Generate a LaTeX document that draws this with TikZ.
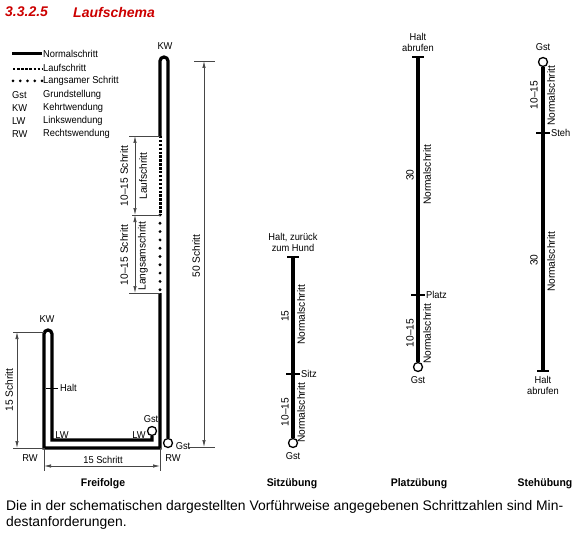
\documentclass[tikz,border=0pt]{standalone}
\usepackage{fontspec}
\setmainfont{Liberation Sans}
\newfontfamily\narrowsf[FakeStretch=0.93]{Liberation Sans}
\newfontfamily\rotsf[FakeStretch=0.97]{Liberation Sans}
\newfontfamily\captsf[FakeStretch=0.95]{Liberation Sans}
\usetikzlibrary{arrows.meta}
\definecolor{titlered}{RGB}{204,0,0}
\definecolor{dimgray}{RGB}{70,70,70}
\begin{document}
\begin{tikzpicture}[x=1pt,y=-1pt,
  lab/.style={font=\narrowsf\fontsize{10}{11}\selectfont, inner sep=0pt},
  rlab/.style={font=\rotsf\fontsize{10.5}{11}\selectfont, inner sep=0pt, rotate=90},
  capt/.style={font=\captsf\bfseries\fontsize{11}{12}\selectfont, inner sep=0pt},
  para/.style={font=\fontsize{13.9}{16}\selectfont, inner sep=0pt, anchor=west},
  normal/.style={line width=3.2pt, line join=miter},
  exline/.style={line width=3.8pt},
  lauf/.style={line width=3pt, line cap=butt, dash pattern=on 2.4pt off 1.5pt},
  langsam/.style={line width=3.2pt, line cap=round, dash pattern=on 0pt off 8.3pt},
  dim/.style={line width=0.7pt, draw=dimgray},
  dimarr/.style={dim, {Latex[length=7pt,width=3.4pt]}-{Latex[length=7pt,width=3.4pt]}},
  gstc/.style={circle, draw, line width=1.3pt, fill=white, minimum size=9pt, inner sep=0pt},
  tbar/.style={line width=2pt},
  tick/.style={line width=1.5pt}]
\useasboundingbox (0,0) rectangle (585,537);

% Title
\node[anchor=west, inner sep=0pt, text=titlered, font=\bfseries\itshape\fontsize{14}{15}\selectfont] (tnum) at (5,12) {3.3.2.5};
\node[anchor=west, inner sep=0pt, text=titlered, font=\bfseries\itshape\fontsize{14}{15}\selectfont] (ttxt) at (73,12) {Laufschema};

% Legend
\coordinate (l1a) at (12,54); \coordinate (l1b) at (42,54);
\coordinate (l2a) at (13,69); \coordinate (l2b) at (42,69);
\coordinate (l3a) at (13,81); \coordinate (l3b) at (42,81);
\draw[line width=3pt] (l1a) -- (l1b);
\draw[lauf, line width=2.6pt, dash pattern=on 2.4pt off 1.7pt] (l2a) -- (l2b);
\draw[langsam, line width=3pt, dash pattern=on 0pt off 7.25pt] (l3a) -- (l3b);
\node[lab, anchor=west] (lg1) at (43,54) {Normalschritt};
\node[lab, anchor=west] (lg2) at (43,68) {Laufschritt};
\node[lab, anchor=west] (lg3) at (43,81) {Langsamer Schritt};
\node[lab, anchor=west] (ab1) at (12,95) {Gst};
\node[lab, anchor=west] (ds1) at (43,95) {Grundstellung};
\node[lab, anchor=west] (ab2) at (12,108) {KW};
\node[lab, anchor=west] (ds2) at (43,108) {Kehrtwendung};
\node[lab, anchor=west] (ab3) at (12,121) {LW};
\node[lab, anchor=west] (ds3) at (43,121) {Linkswendung};
\node[lab, anchor=west] (ab4) at (12,134) {RW};
\node[lab, anchor=west] (ds4) at (43,134) {Rechtswendung};

% Freifolge path
\node[gstc] (gstR) at (168,443) {};
\node[gstc] (gstL) at (152,431) {};
\coordinate (pA) at (168,61);
\coordinate (pB) at (160,136);
\coordinate (pC) at (160,215);
\coordinate (pD) at (160,293);
\coordinate (pE) at (160,448);
\coordinate (pF) at (44,448);
\coordinate (pG) at (44,334);
\coordinate (pH) at (52,440);
\coordinate (pI) at (152,440);
\draw[normal] (gstR.north) -- (pA) arc[start angle=0, end angle=-180, radius=4] -- (pB);
\draw[lauf] (pB) -- (pC);
\draw[langsam] (pC) -- (pD);
\draw[normal] (pD) -- (pE) -- (pF) -- (pG) arc[start angle=180, end angle=360, radius=4] -- (pH) -- (pI) -- (gstL.south);
\coordinate (haltL) at (46,388); \coordinate (haltR) at (58,388);
\draw[line width=1pt] (haltL) -- (haltR);
\node[lab, anchor=west] (halt) at (60,388) {Halt};

\node[lab] (kwT) at (165,46) {KW};
\node[lab] (kwL) at (47,319) {KW};
\node[lab] (lw1) at (62,435) {LW};
\node[lab] (lw2) at (139,435) {LW};
\node[lab] (gst1) at (151,419) {Gst};
\node[lab] (gst2) at (183,446) {Gst};
\node[lab] (rw1) at (30,458) {RW};
\node[lab] (rw2) at (173,458) {RW};

% Dimension: left 15 Schritt
\coordinate (d1a) at (13,332); \coordinate (d1b) at (44,332);
\coordinate (d1c) at (13,448);
\draw[dim] (d1a) -- (d1b);
\draw[dim] (d1c) -- (pF);
\draw[dimarr] (17,332) -- (17,448);
\node[rlab] (s15a) at (9,390) {15 Schritt};

% Dimension: bottom 15 Schritt
\coordinate (d2a) at (44,471); \coordinate (d2b) at (160,471);
\draw[dim] (pF) -- (d2a);
\draw[dim] (pE) -- (d2b);
\draw[dimarr] (44,466) -- (160,466);
\node[lab] (s15b) at (103,460) {15 Schritt};

% Dimension: 50 Schritt
\coordinate (d3a) at (194,61); \coordinate (d3b) at (215,61);
\coordinate (d3c) at (189,447); \coordinate (d3d) at (215,447);
\draw[dim] (d3a) -- (d3b);
\draw[dim] (d3c) -- (d3d);
\draw[dimarr] (204,61) -- (204,447);
\node[rlab] (s50) at (196,256) {50 Schritt};

% Dimensions: Laufschritt / Langsamschritt
\coordinate (e1) at (129,136); \coordinate (e2) at (132,215); \coordinate (e3) at (129,293);
\draw[dim] (e1) -- (pB);
\draw[dim] (e2) -- (pC);
\draw[dim] (e3) -- (pD);
\draw[dimarr] (135,136) -- (135,215);
\draw[dimarr] (135,215) -- (135,293);
\node[rlab] (s1015a) at (124,176) {10–15 Schritt};
\node[rlab] (tlauf) at (143,176) {Laufschritt};
\node[rlab] (s1015b) at (124,255) {10–15 Schritt};
\node[rlab] (tlang) at (143,256) {Langsamschritt};

% Sitzuebung
\coordinate (sTop) at (293,257);
\node[gstc] (sGst) at (293,443) {};
\draw[exline] (sTop) -- (sGst.north);
\draw[tbar] (287,257) -- (299,257);
\draw[tick] (286,374) -- (300,374);
\node[lab, align=center] (sHalt) at (293,242) {Halt, zurück\\zum Hund};
\node[lab, anchor=west] (sSitz) at (301,374) {Sitz};
\node[lab] (sGstL) at (293,456) {Gst};
\node[rlab] (s15) at (285,316) {15};
\node[rlab] (sN1) at (301,315) {Normalschritt};
\node[rlab] (s1015) at (285,412) {10–15};
\node[rlab] (sN2) at (301,413) {Normalschritt};
\node[capt] (cSitz) at (292,484) {Sitzübung};

% Platzuebung
\coordinate (pTop) at (418,57);
\node[gstc] (pGst) at (418,367) {};
\draw[exline] (pTop) -- (pGst.north);
\draw[tbar] (412,57) -- (424,57);
\draw[tick] (411,295) -- (425,295);
\node[lab, align=center] (pHalt) at (418,42) {Halt\\abrufen};
\node[lab, anchor=west] (pPlatz) at (426,295) {Platz};
\node[lab] (pGstL) at (418,380) {Gst};
\node[rlab] (p30) at (410,175) {30};
\node[rlab] (pN1) at (427,175) {Normalschritt};
\node[rlab] (p1015) at (410,333) {10–15};
\node[rlab] (pN2) at (427,334) {Normalschritt};
\node[capt] (cPlatz) at (419,484) {Platzübung};

% Stehuebung
\node[gstc] (tGst) at (543,62) {};
\coordinate (tBot) at (543,371);
\draw[exline] (tGst.south) -- (tBot);
\draw[tbar] (537,371) -- (549,371);
\draw[tick] (536,133) -- (550,133);
\node[lab] (tGstL) at (543,47) {Gst};
\node[lab, anchor=west] (tSteh) at (551,133) {Steh};
\node[lab, align=center] (tHalt) at (543,385) {Halt\\abrufen};
\node[rlab] (t1015) at (534,95) {10–15};
\node[rlab] (tN1) at (551,96) {Normalschritt};
\node[rlab] (t30) at (534,260) {30};
\node[rlab] (tN2) at (551,262) {Normalschritt};
\node[capt] (cSteh) at (545,484) {Stehübung};

\node[capt] (cFrei) at (103,484) {Freifolge};

% Paragraph
\node[para] (par1) at (6,507) {Die in der schematischen dargestellten Vorführweise angegebenen Schrittzahlen sind Min-};
\node[para] (par2) at (6,523) {destanforderungen.};
\end{tikzpicture}
\end{document}
